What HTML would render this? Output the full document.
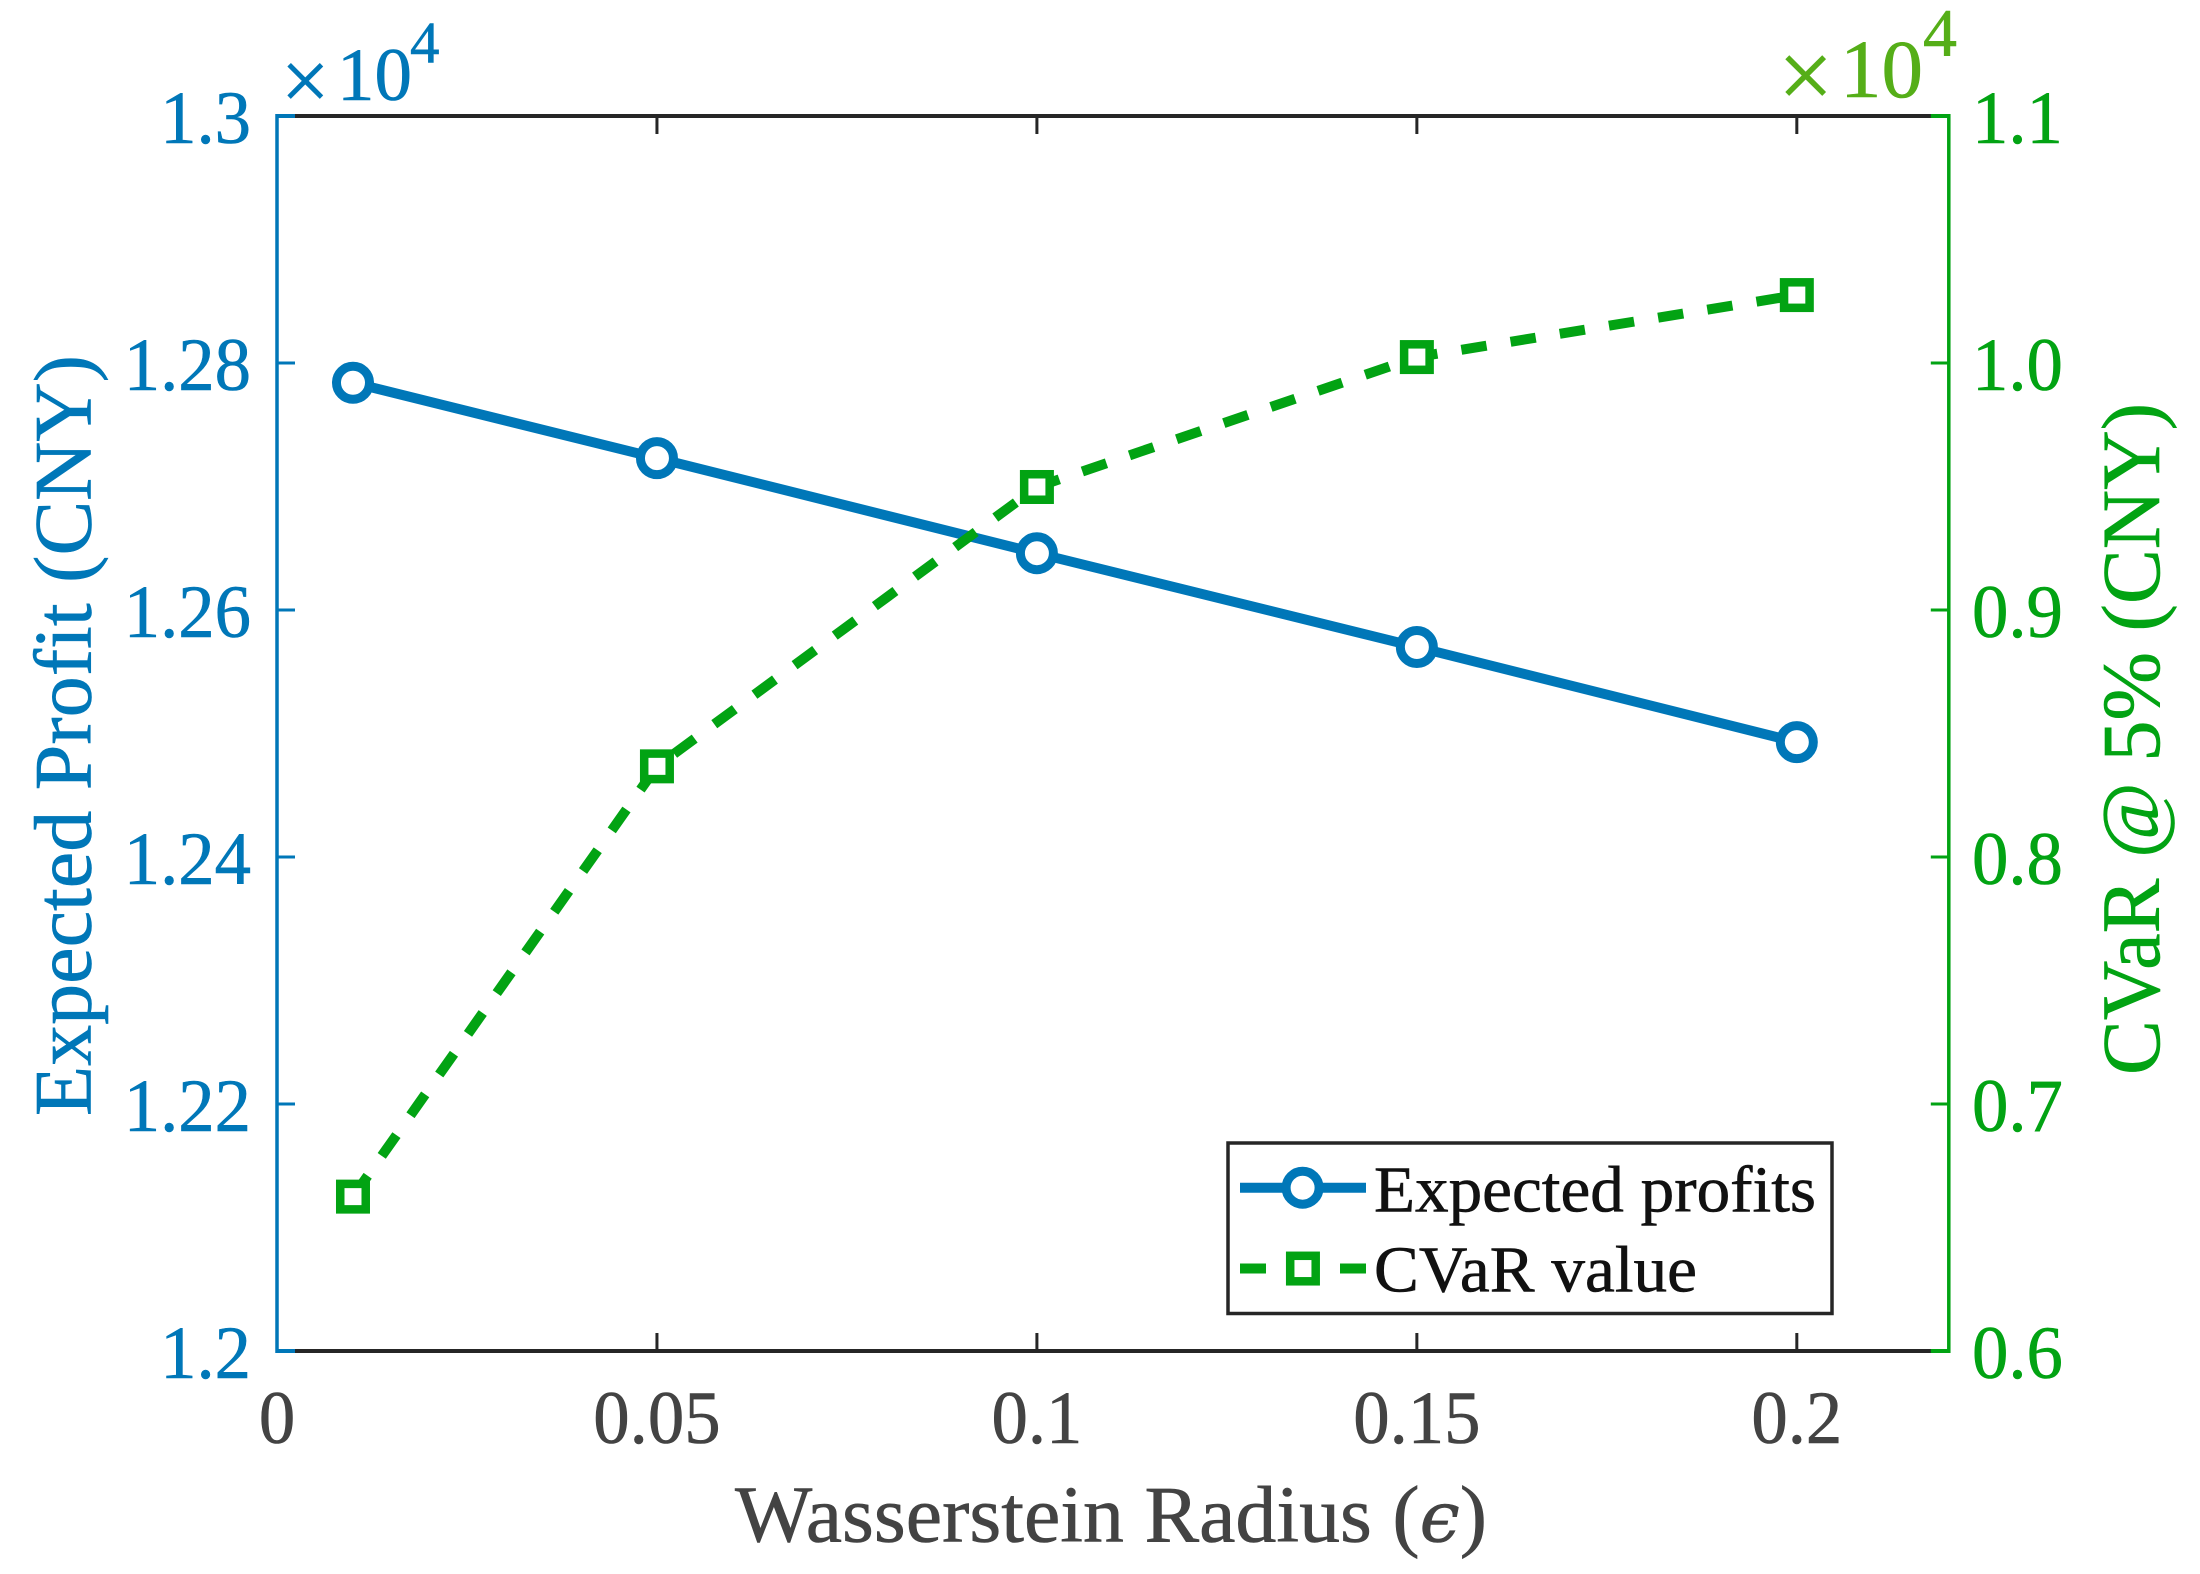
<!DOCTYPE html>
<html lang="en">
<head>
<meta charset="utf-8">
<title>Expected Profit and CVaR vs Wasserstein Radius</title>
<style>
  html, body { margin: 0; padding: 0; background: #fff; }
  #chart { display: block; width: 2200px; height: 1574px; font-family: "Liberation Serif", "Times New Roman", serif; }
</style>
</head>
<body>
<svg id="chart" xmlns="http://www.w3.org/2000/svg" width="2200" height="1574" viewBox="0 0 2200 1574">
  <rect x="0" y="0" width="2200" height="1574" fill="#ffffff"/>
  <g id="axes"></g>
  <g id="series"></g>

  <text x="281" y="109.5" font-size="86" fill="#0077B8">×</text>
  <text x="337" y="100" font-size="75" fill="#0077B8">10</text>
  <text x="410" y="62.7" font-size="59" fill="#0077B8">4</text>

  <text x="1778" y="108" font-size="98" fill="#55AE18">×</text>
  <text x="1840" y="97" font-size="83" fill="#55AE18">10</text>
  <text x="1923" y="56" font-size="68" fill="#55AE18">4</text>

  <text x="735" y="1541.5" font-size="80" fill="#434343" textLength="752" lengthAdjust="spacingAndGlyphs">Wasserstein Radius (<tspan font-style="italic" font-size="70" font-family="'DejaVu Serif', serif">ϵ</tspan>)</text>
  <text transform="translate(90.7,1116) rotate(-90)" font-size="82" fill="#0077B8" textLength="761" lengthAdjust="spacingAndGlyphs">Expected Profit (CNY)</text>
  <text transform="translate(2159,1075) rotate(-90)" font-size="83" fill="#02A313" textLength="672" lengthAdjust="spacingAndGlyphs">CVaR @ 5% (CNY)</text>

  <g>
    <rect x="1228" y="1143" width="604" height="170.5" fill="#ffffff" stroke="#262626" stroke-width="3.5"/>
    <line x1="1240" y1="1187.7" x2="1366" y2="1187.7" stroke="#0077B8" stroke-width="10"/>
    <circle cx="1302.6" cy="1187.7" r="16.5" fill="#ffffff" stroke="#0077B8" stroke-width="9"/>
    <text x="1374" y="1211.7" font-size="66" fill="#111111" textLength="442" lengthAdjust="spacingAndGlyphs">Expected profits</text>
    <line x1="1240" y1="1268.5" x2="1266" y2="1268.5" stroke="#02A313" stroke-width="10"/>
    <line x1="1340" y1="1268.5" x2="1366" y2="1268.5" stroke="#02A313" stroke-width="10"/>
    <rect x="1290.2" y="1255.8" width="25.5" height="25.5" fill="#ffffff" stroke="#02A313" stroke-width="8.5"/>
    <text x="1374" y="1291.7" font-size="66" fill="#111111" textLength="323" lengthAdjust="spacingAndGlyphs">CVaR value</text>
  </g>
</svg>

<script>
var radiusValues = [0.01, 0.05, 0.1, 0.15, 0.2];
var expectedProfit = [1.2784, 1.2723, 1.2646, 1.257, 1.2493];
var cvarValue = [0.6625, 0.8367, 0.9498, 1.0024, 1.0275];

var xTicks = [0, 0.05, 0.1, 0.15, 0.2];
var xTickLabels = ['0', '0.05', '0.1', '0.15', '0.2'];
var leftTicks = [1.2, 1.22, 1.24, 1.26, 1.28, 1.3];
var leftTickLabels = ['1.2', '1.22', '1.24', '1.26', '1.28', '1.3'];
var rightTicks = [0.6, 0.7, 0.8, 0.9, 1.0, 1.1];
var rightTickLabels = ['0.6', '0.7', '0.8', '0.9', '1.0', '1.1'];

var NS = 'http://www.w3.org/2000/svg';
var plot = { left: 277, right: 1948.8, top: 116, bottom: 1351 };
var xDomain = [0, 0.22];
var leftDomain = [1.2, 1.3];
var rightDomain = [0.6, 1.1];
var BLUE = '#0077B8';
var GREEN = '#02A313';
var DARK = '#262626';
var GREY = '#434343';
var TICK = 18;
var TEXT_SQUEEZE = 0.97;

function xScale(v) {
  return plot.left + (v - xDomain[0]) / (xDomain[1] - xDomain[0]) * (plot.right - plot.left);
}
function leftScale(v) {
  return plot.bottom - (v - leftDomain[0]) / (leftDomain[1] - leftDomain[0]) * (plot.bottom - plot.top);
}
function rightScale(v) {
  return plot.bottom - (v - rightDomain[0]) / (rightDomain[1] - rightDomain[0]) * (plot.bottom - plot.top);
}
function make(tag, parent) {
  var el = document.createElementNS(NS, tag);
  parent.appendChild(el);
  return el;
}
function drawLine(el, x1, y1, x2, y2, color, width) {
  el.setAttribute('x1', x1);
  el.setAttribute('y1', y1);
  el.setAttribute('x2', x2);
  el.setAttribute('y2', y2);
  el.setAttribute('stroke', color);
  el.setAttribute('stroke-width', width);
}
function drawLabel(el, x, y, content, color, anchor) {
  el.setAttribute('transform', 'translate(' + x + ',' + y + ') scale(' + TEXT_SQUEEZE + ',1)');
  el.setAttribute('font-size', '75');
  el.setAttribute('fill', color);
  el.setAttribute('text-anchor', anchor);
  el.textContent = content;
}

var axes = document.getElementById('axes');
var seriesLayer = document.getElementById('series');

/* Axis lines */
var topAxis = make('line', axes);


drawLine(topAxis, plot.left, plot.top, plot.right, plot.top, DARK, 4);

var bottomAxis = make('line', axes);


drawLine(bottomAxis, plot.left, plot.bottom, plot.right, plot.bottom, DARK, 4);

var leftAxis = make('line', axes);


drawLine(leftAxis, plot.left, plot.top - 2, plot.left, plot.bottom + 2, BLUE, 3.5);

var rightAxis = make('line', axes);


drawLine(rightAxis, plot.right, plot.top - 2, plot.right, plot.bottom + 2, GREEN, 3.5);

/* X ticks and labels */
xTicks.forEach(function (t, i) {
  var x = xScale(t);
  if (t !== xDomain[0]) {
    var bottomTick = make('line', axes);
    
    
    drawLine(bottomTick, x, plot.bottom, x, plot.bottom - TICK, DARK, 3);

    var topTick = make('line', axes);
    
    
    drawLine(topTick, x, plot.top, x, plot.top + TICK, DARK, 3);
  }
  var label = make('text', axes);
  
  
  drawLabel(label, x, 1443, xTickLabels[i], GREY, 'middle');
});

/* Left ticks and labels: blue tick stubs sit on top of the black frame corner */
leftTicks.forEach(function (t, i) {
  var y = leftScale(t);
  var tick = make('line', axes);
  
  
  drawLine(tick, plot.left, y, plot.left + TICK, y, BLUE, t === leftDomain[0] || t === leftDomain[1] ? 4 : 3);

  var label = make('text', axes);
  
  
  drawLabel(label, 251, y + 27, leftTickLabels[i], BLUE, 'end');
});

/* Right ticks and labels */
rightTicks.forEach(function (t, i) {
  var y = rightScale(t);
  var tick = make('line', axes);
  
  
  drawLine(tick, plot.right, y, plot.right - TICK, y, GREEN, t === rightDomain[0] || t === rightDomain[1] ? 4 : 3);

  var label = make('text', axes);
  
  
  drawLabel(label, 1972, y + 27, rightTickLabels[i], GREEN, 'start');
});

/* Expected profit series */
var profitPoints = radiusValues.map(function (r, i) {
  return xScale(r) + ',' + leftScale(expectedProfit[i]);
}).join(' ');
var profitLine = make('polyline', seriesLayer);


profitLine.setAttribute('points', profitPoints);
profitLine.setAttribute('fill', 'none');
profitLine.setAttribute('stroke', BLUE);
profitLine.setAttribute('stroke-width', '10');

radiusValues.forEach(function (r, i) {
  var dot = make('circle', seriesLayer);
  
  
  dot.setAttribute('cx', xScale(r));
  dot.setAttribute('cy', leftScale(expectedProfit[i]));
  dot.setAttribute('r', '16.5');
  dot.setAttribute('fill', '#ffffff');
  dot.setAttribute('stroke', BLUE);
  dot.setAttribute('stroke-width', '9');
});

/* CVaR series */
var cvarPoints = radiusValues.map(function (r, i) {
  return xScale(r) + ',' + rightScale(cvarValue[i]);
}).join(' ');
var cvarLine = make('polyline', seriesLayer);


cvarLine.setAttribute('points', cvarPoints);
cvarLine.setAttribute('fill', 'none');
cvarLine.setAttribute('stroke', GREEN);
cvarLine.setAttribute('stroke-width', '10');
cvarLine.setAttribute('stroke-dasharray', '25.5 24.33');

radiusValues.forEach(function (r, i) {
  var square = make('rect', seriesLayer);
  
  
  square.setAttribute('x', xScale(r) - 12.75);
  square.setAttribute('y', rightScale(cvarValue[i]) - 12.75);
  square.setAttribute('width', '25.5');
  square.setAttribute('height', '25.5');
  square.setAttribute('fill', '#ffffff');
  square.setAttribute('stroke', GREEN);
  square.setAttribute('stroke-width', '8.5');
});

/* Slightly embolden all labels to match the heavier glyph weight of the figure */
var allText = document.querySelectorAll('#chart text');
for (var t = 0; t < allText.length; t++) {
  allText[t].setAttribute('stroke', allText[t].getAttribute('fill'));
  allText[t].setAttribute('stroke-width', '0.6');
}
</script>
</body>
</html>
